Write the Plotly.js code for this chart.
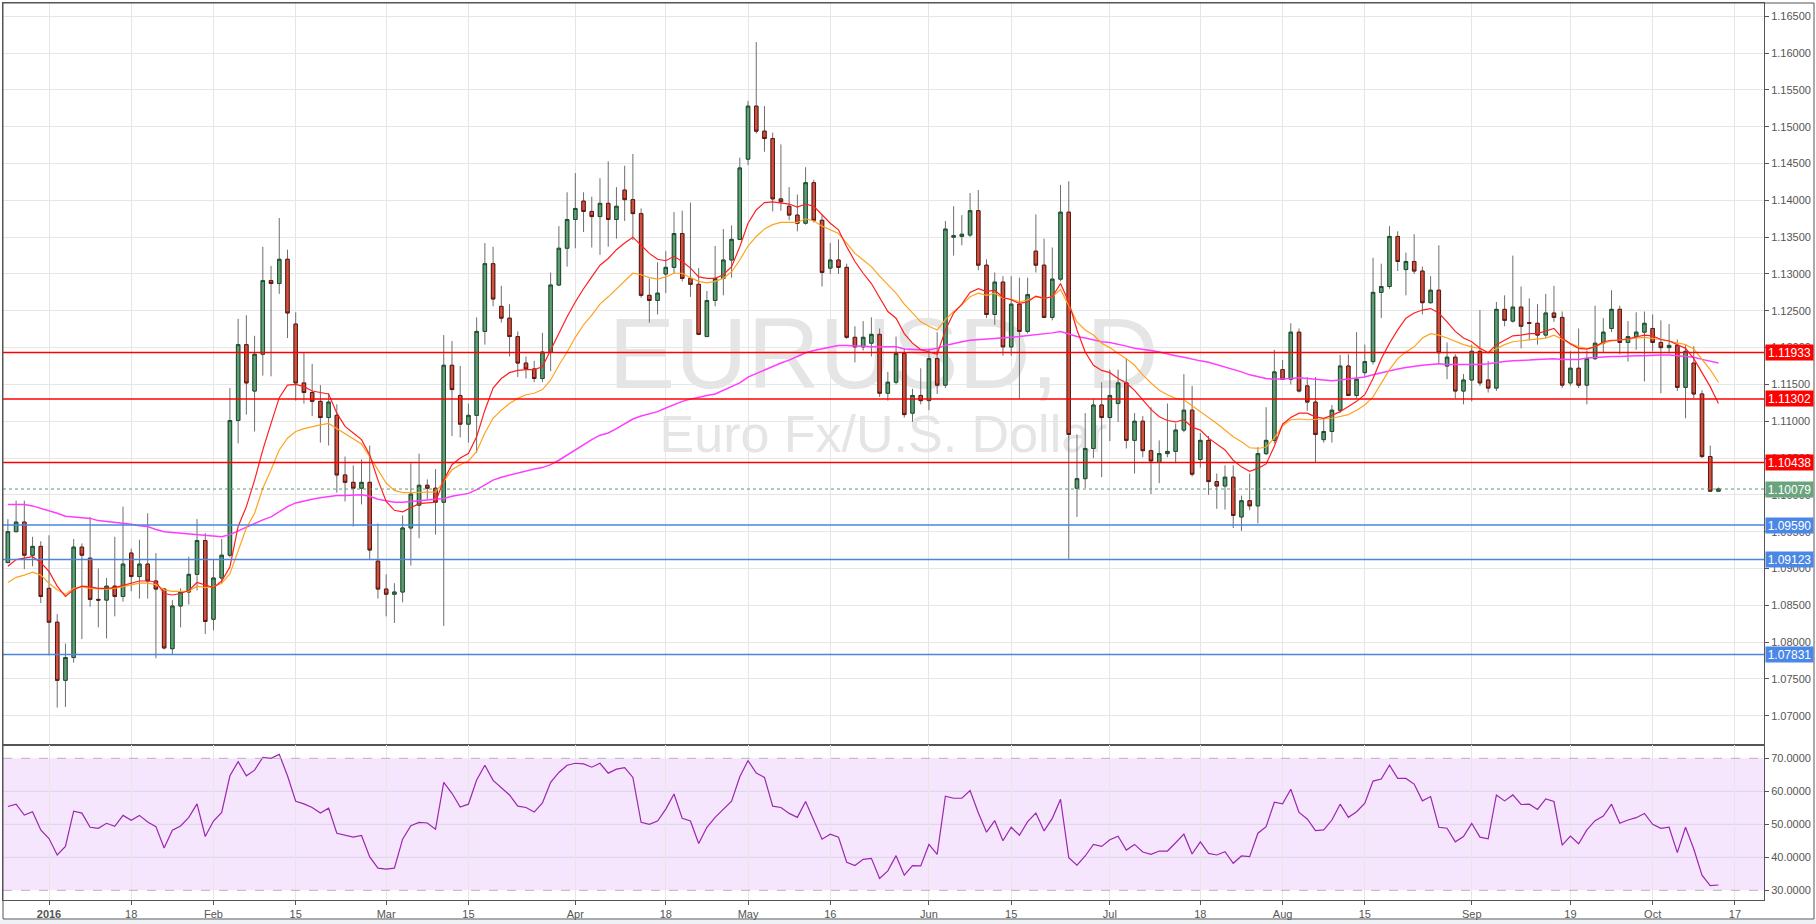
<!DOCTYPE html>
<html><head><meta charset="utf-8">
<script src="https://cdn.plot.ly/plotly-3.0.1.min.js"></script>
<style>html,body{margin:0;padding:0;background:#fff;}#chart{width:1816px;height:924px;}</style>
</head><body><div id="chart"></div>
<script>
// ---- data (EUR/USD daily, first candle 2015-12-28, consecutive weekdays) ----
const firstDate = '2015-12-28';
const open = [
1.0908,1.0950,1.0963,1.0918,1.0930,1.0873,1.0827,1.0748,1.0779,1.0929,
1.0914,1.0858,1.0857,1.0876,1.0862,1.0921,1.0889,1.0906,1.0883,1.0872,
1.0791,1.0849,1.0868,1.0892,1.0938,1.0831,1.0887,1.0918,1.1101,1.1204,
1.1141,1.1191,1.1291,1.1287,1.1320,1.1232,1.1152,1.1139,1.1127,1.1105,
1.1108,1.1027,1.1017,1.1009,1.1017,1.0910,1.0872,1.0865,1.0868,1.0955,
1.0986,1.1013,1.1009,1.0990,1.1176,1.1135,1.1096,1.1108,1.1222,1.1314,
1.1256,1.1240,1.1215,1.1179,1.1171,1.1158,1.1194,1.1285,1.1335,1.1374,
1.1399,1.1385,1.1378,1.1396,1.1374,1.1414,1.1401,1.1382,1.1271,1.1264,
1.1300,1.1309,1.1355,1.1294,1.1286,1.1215,1.1264,1.1294,1.1319,1.1347,
1.1456,1.1528,1.1494,1.1484,1.1402,1.1392,1.1380,1.1369,1.1424,1.1373,
1.1308,1.1319,1.1309,1.1214,1.1201,1.1206,1.1218,1.1138,1.1153,1.1192,
1.1111,1.1135,1.1128,1.1185,1.1149,1.1350,1.1351,1.1353,1.1386,1.1312,
1.1245,1.1289,1.1201,1.1259,1.1222,1.1331,1.1312,1.1241,1.1293,1.1384,
1.1009,1.1022,1.1063,1.1122,1.1105,1.1124,1.1152,1.1074,1.1100,1.1060,
1.1044,1.1056,1.1059,1.1088,1.1115,1.1048,1.1074,1.1018,1.1012,1.1024,
1.0970,1.0992,1.0985,1.1056,1.1074,1.1170,1.1157,1.1221,1.1148,1.1126,
1.1075,1.1086,1.1115,1.1175,1.1135,1.1166,1.1181,1.1275,1.1283,1.1351,
1.1306,1.1317,1.1304,1.1261,1.1278,1.1175,1.1187,1.1141,1.1156,1.1195,
1.1156,1.1145,1.1252,1.1236,1.1255,1.1234,1.1233,1.1217,1.1247,1.1241,
1.1152,1.1172,1.1149,1.1185,1.1206,1.1226,1.1252,1.1207,1.1215,1.1221,
1.1226,1.1207,1.1200,1.1203,1.1146,1.1179,1.1137,1.1052,1.1005];
const high = [
1.0967,1.0992,1.0992,1.0943,1.0937,1.0945,1.0838,1.0798,1.0940,1.0934,
1.0970,1.0900,1.0887,1.0943,1.0984,1.0927,1.0939,1.0975,1.0921,1.0873,
1.0857,1.0873,1.0916,1.0967,1.0948,1.0912,1.0940,1.1145,1.1239,1.1244,
1.1216,1.1337,1.1311,1.1376,1.1333,1.1248,1.1194,1.1178,1.1149,1.1138,
1.1123,1.1052,1.1040,1.1048,1.1067,1.0961,1.0892,1.0880,1.0972,1.1043,
1.1056,1.1021,1.1035,1.1217,1.1209,1.1175,1.1124,1.1241,1.1342,1.1337,
1.1284,1.1259,1.1222,1.1188,1.1182,1.1220,1.1302,1.1365,1.1411,1.1437,
1.1411,1.1405,1.1430,1.1453,1.1418,1.1447,1.1463,1.1389,1.1294,1.1316,
1.1331,1.1384,1.1386,1.1397,1.1308,1.1277,1.1338,1.1361,1.1366,1.1458,
1.1535,1.1615,1.1528,1.1492,1.1476,1.1418,1.1408,1.1445,1.1428,1.1380,
1.1342,1.1347,1.1314,1.1229,1.1236,1.1241,1.1226,1.1167,1.1215,1.1199,
1.1144,1.1172,1.1199,1.1221,1.1372,1.1392,1.1380,1.1410,1.1414,1.1320,
1.1302,1.1297,1.1297,1.1295,1.1295,1.1381,1.1348,1.1336,1.1421,1.1426,
1.1082,1.1111,1.1130,1.1153,1.1170,1.1170,1.1185,1.1111,1.1107,1.1119,
1.1074,1.1124,1.1097,1.1164,1.1148,1.1084,1.1080,1.1029,1.1040,1.1040,
1.0999,1.1029,1.1065,1.1119,1.1197,1.1183,1.1233,1.1226,1.1160,1.1160,
1.1104,1.1122,1.1190,1.1191,1.1221,1.1204,1.1322,1.1314,1.1365,1.1358,
1.1329,1.1354,1.1310,1.1297,1.1339,1.1207,1.1191,1.1164,1.1204,1.1251,
1.1182,1.1262,1.1271,1.1325,1.1283,1.1267,1.1259,1.1273,1.1284,1.1249,
1.1195,1.1226,1.1196,1.1257,1.1240,1.1278,1.1257,1.1236,1.1248,1.1249,
1.1245,1.1237,1.1232,1.1211,1.1204,1.1202,1.1142,1.1067,1.1010];
const low = [
1.0907,1.0949,1.0899,1.0903,1.0853,1.0782,1.0711,1.0712,1.0772,1.0804,
1.0848,1.0820,1.0805,1.0835,1.0855,1.0869,1.0859,1.0859,1.0778,1.0790,
1.0783,1.0820,1.0851,1.0870,1.0811,1.0816,1.0880,1.0915,1.1070,1.1109,
1.1086,1.1162,1.1161,1.1273,1.1213,1.1128,1.1124,1.1107,1.1071,1.1067,
1.1003,1.0991,1.0957,1.0987,1.0912,1.0859,1.0835,1.0826,1.0854,1.0904,
1.0941,1.0993,1.0946,1.0822,1.1080,1.1078,1.1071,1.1057,1.1204,1.1256,
1.1234,1.1188,1.1160,1.1158,1.1153,1.1153,1.1168,1.1284,1.1310,1.1335,
1.1357,1.1336,1.1326,1.1337,1.1348,1.1372,1.1346,1.1268,1.1234,1.1245,
1.1274,1.1300,1.1290,1.1269,1.1217,1.1215,1.1256,1.1271,1.1295,1.1346,
1.1448,1.1491,1.1466,1.1385,1.1386,1.1373,1.1358,1.1367,1.1370,1.1283,
1.1300,1.1300,1.1212,1.1180,1.1196,1.1188,1.1133,1.1128,1.1150,1.1105,
1.1099,1.1123,1.1115,1.1137,1.1145,1.1325,1.1339,1.1350,1.1305,1.1240,
1.1231,1.1189,1.1189,1.1131,1.1219,1.1302,1.1240,1.1237,1.1290,1.0913,
1.0970,1.1009,1.1050,1.1024,1.1073,1.1099,1.1063,1.1029,1.1051,1.1001,
1.1016,1.1051,1.1043,1.1085,1.1025,1.1037,1.1000,1.0981,1.0980,1.0955,
1.0951,1.0979,1.0961,1.1054,1.1070,1.1156,1.1150,1.1139,1.1114,1.1044,
1.1071,1.1071,1.1111,1.1134,1.1131,1.1160,1.1177,1.1240,1.1280,1.1304,
1.1271,1.1300,1.1245,1.1260,1.1179,1.1157,1.1131,1.1123,1.1127,1.1148,
1.1139,1.1141,1.1229,1.1234,1.1199,1.1210,1.1204,1.1213,1.1235,1.1145,
1.1148,1.1145,1.1123,1.1183,1.1194,1.1221,1.1191,1.1181,1.1197,1.1154,
1.1195,1.1138,1.1192,1.1141,1.1104,1.1131,1.1050,1.1005,1.1004];
const close = [
1.0950,1.0963,1.0918,1.0930,1.0862,1.0827,1.0748,1.0779,1.0929,1.0918,
1.0858,1.0857,1.0876,1.0862,1.0906,1.0889,1.0906,1.0883,1.0872,1.0792,
1.0849,1.0868,1.0892,1.0938,1.0828,1.0887,1.0918,1.1101,1.1204,1.1152,
1.1191,1.1291,1.1287,1.1320,1.1247,1.1152,1.1139,1.1127,1.1105,1.1126,
1.1027,1.1017,1.1009,1.1017,1.0925,1.0872,1.0865,1.0868,1.0955,1.1001,
1.1013,1.1009,1.0990,1.1176,1.1143,1.1096,1.1108,1.1222,1.1314,1.1266,
1.1240,1.1215,1.1179,1.1171,1.1158,1.1194,1.1285,1.1335,1.1374,1.1389,
1.1385,1.1378,1.1396,1.1374,1.1392,1.1401,1.1382,1.1271,1.1264,1.1274,
1.1309,1.1355,1.1294,1.1286,1.1218,1.1264,1.1294,1.1319,1.1347,1.1444,
1.1528,1.1494,1.1484,1.1402,1.1398,1.1380,1.1369,1.1424,1.1373,1.1302,
1.1319,1.1309,1.1214,1.1201,1.1214,1.1218,1.1138,1.1153,1.1192,1.1109,
1.1135,1.1128,1.1185,1.1149,1.1361,1.1352,1.1354,1.1386,1.1312,1.1245,
1.1289,1.1201,1.1259,1.1222,1.1272,1.1312,1.1241,1.1293,1.1384,1.1082,
1.1022,1.1063,1.1122,1.1105,1.1135,1.1152,1.1074,1.1100,1.1060,1.1046,
1.1056,1.1059,1.1088,1.1115,1.1028,1.1074,1.1018,1.1012,1.1024,1.0972,
1.0992,1.0985,1.1056,1.1074,1.1167,1.1157,1.1221,1.1141,1.1126,1.1082,
1.1086,1.1115,1.1175,1.1135,1.1157,1.1181,1.1275,1.1283,1.1351,1.1317,
1.1317,1.1304,1.1261,1.1278,1.1193,1.1187,1.1141,1.1156,1.1195,1.1152,
1.1145,1.1252,1.1237,1.1255,1.1229,1.1233,1.1217,1.1247,1.1241,1.1149,
1.1172,1.1149,1.1185,1.1206,1.1221,1.1252,1.1207,1.1215,1.1221,1.1233,
1.1207,1.1200,1.1203,1.1146,1.1195,1.1137,1.1052,1.1005,1.1008];
// moving averages (red = fast, orange = medium, magenta = slow)
const maFast = [
1.0903,1.0912,1.0914,1.0916,1.0908,1.0896,1.0876,1.0862,1.0871,1.0876,
1.0875,1.0873,1.0873,1.0874,1.0877,1.0880,1.0883,1.0883,1.0882,1.0866,
1.0864,1.0866,1.0870,1.0881,1.0878,1.0874,1.0883,1.0902,1.0957,1.0984,
1.1020,1.1061,1.1097,1.1132,1.1149,1.1150,1.1147,1.1141,1.1139,1.1137,
1.1111,1.1093,1.1084,1.1075,1.1054,1.1020,1.0991,1.0979,1.0977,1.0983,
1.0988,1.0989,1.0990,1.1020,1.1041,1.1050,1.1056,1.1079,1.1115,1.1145,
1.1158,1.1166,1.1169,1.1170,1.1170,1.1174,1.1197,1.1219,1.1242,1.1262,
1.1280,1.1296,1.1312,1.1321,1.1333,1.1342,1.1350,1.1339,1.1328,1.1320,
1.1318,1.1324,1.1317,1.1308,1.1296,1.1294,1.1294,1.1299,1.1310,1.1337,
1.1369,1.1387,1.1397,1.1398,1.1397,1.1395,1.1391,1.1395,1.1392,1.1380,
1.1369,1.1360,1.1337,1.1317,1.1301,1.1287,1.1267,1.1249,1.1240,1.1219,
1.1206,1.1197,1.1194,1.1191,1.1224,1.1247,1.1259,1.1275,1.1280,1.1276,
1.1278,1.1268,1.1265,1.1260,1.1262,1.1270,1.1267,1.1269,1.1287,1.1262,
1.1224,1.1194,1.1176,1.1169,1.1166,1.1158,1.1152,1.1142,1.1129,1.1116,
1.1106,1.1101,1.1099,1.1102,1.1092,1.1088,1.1077,1.1069,1.1061,1.1047,
1.1038,1.1032,1.1036,1.1042,1.1066,1.1096,1.1105,1.1111,1.1111,1.1106,
1.1104,1.1108,1.1113,1.1120,1.1127,1.1136,1.1158,1.1185,1.1206,1.1224,
1.1240,1.1247,1.1251,1.1253,1.1247,1.1235,1.1222,1.1213,1.1208,1.1199,
1.1193,1.1204,1.1210,1.1216,1.1217,1.1219,1.1219,1.1223,1.1226,1.1213,
1.1205,1.1199,1.1198,1.1201,1.1208,1.1210,1.1210,1.1212,1.1214,1.1217,
1.1216,1.1211,1.1209,1.1204,1.1199,1.1185,1.1165,1.1147,1.1124];
const maMid = [
1.0881,1.0888,1.0891,1.0895,1.0891,1.0880,1.0871,1.0865,1.0873,1.0875,
1.0873,1.0872,1.0872,1.0873,1.0875,1.0878,1.0880,1.0880,1.0878,1.0871,
1.0869,1.0869,1.0869,1.0876,1.0874,1.0875,1.0880,1.0893,1.0925,1.0955,
1.0975,1.1009,1.1034,1.1061,1.1077,1.1086,1.1090,1.1093,1.1095,1.1097,
1.1090,1.1083,1.1077,1.1069,1.1052,1.1034,1.1016,1.1006,1.1003,1.1003,
1.1003,1.1003,1.1004,1.1018,1.1034,1.1041,1.1046,1.1059,1.1084,1.1104,
1.1115,1.1124,1.1131,1.1136,1.1138,1.1143,1.1156,1.1176,1.1194,1.1214,
1.1231,1.1244,1.1259,1.1269,1.1280,1.1291,1.1301,1.1299,1.1295,1.1293,
1.1296,1.1301,1.1301,1.1295,1.1290,1.1288,1.1290,1.1294,1.1303,1.1319,
1.1338,1.1351,1.1361,1.1367,1.1370,1.1370,1.1370,1.1375,1.1372,1.1365,
1.1360,1.1355,1.1342,1.1328,1.1319,1.1310,1.1297,1.1285,1.1274,1.1259,
1.1247,1.1235,1.1229,1.1224,1.1238,1.1249,1.1258,1.1269,1.1274,1.1271,
1.1274,1.1267,1.1266,1.1262,1.1265,1.1269,1.1267,1.1269,1.1279,1.1256,
1.1235,1.1224,1.1217,1.1206,1.1200,1.1192,1.1185,1.1176,1.1163,1.1152,
1.1142,1.1136,1.1131,1.1129,1.1121,1.1113,1.1106,1.1097,1.1088,1.1079,
1.1072,1.1064,1.1063,1.1065,1.1077,1.1094,1.1102,1.1103,1.1102,1.1102,
1.1103,1.1104,1.1106,1.1109,1.1115,1.1122,1.1133,1.1152,1.1170,1.1185,
1.1194,1.1201,1.1213,1.1219,1.1217,1.1213,1.1208,1.1204,1.1201,1.1199,
1.1193,1.1199,1.1204,1.1208,1.1209,1.1210,1.1211,1.1213,1.1217,1.1211,
1.1206,1.1201,1.1199,1.1201,1.1206,1.1209,1.1210,1.1211,1.1213,1.1214,
1.1213,1.1211,1.1209,1.1206,1.1204,1.1198,1.1184,1.1170,1.1153];
const maSlow = [
1.0987,1.0987,1.0987,1.0985,1.0982,1.0979,1.0975,1.0971,1.0970,1.0970,
1.0968,1.0965,1.0964,1.0962,1.0961,1.0960,1.0958,1.0957,1.0953,1.0950,
1.0949,1.0948,1.0947,1.0946,1.0944,1.0943,1.0943,1.0946,1.0951,1.0957,
1.0961,1.0966,1.0970,1.0977,1.0984,1.0989,1.0992,1.0994,1.0996,1.0998,
1.0999,1.0999,1.1000,1.1000,1.0998,1.0994,1.0992,1.0990,1.0990,1.0991,
1.0992,1.0993,1.0993,1.0995,1.0998,1.1000,1.1002,1.1007,1.1014,1.1020,
1.1024,1.1027,1.1029,1.1032,1.1035,1.1037,1.1041,1.1047,1.1054,1.1062,
1.1068,1.1075,1.1081,1.1084,1.1090,1.1096,1.1103,1.1107,1.1110,1.1113,
1.1118,1.1123,1.1127,1.1130,1.1133,1.1135,1.1137,1.1142,1.1146,1.1152,
1.1160,1.1165,1.1170,1.1174,1.1179,1.1183,1.1188,1.1193,1.1196,1.1198,
1.1200,1.1203,1.1203,1.1203,1.1202,1.1201,1.1201,1.1201,1.1201,1.1198,
1.1197,1.1197,1.1197,1.1199,1.1203,1.1206,1.1208,1.1210,1.1211,1.1212,
1.1213,1.1213,1.1214,1.1215,1.1216,1.1217,1.1218,1.1220,1.1222,1.1218,
1.1215,1.1213,1.1210,1.1208,1.1207,1.1205,1.1202,1.1199,1.1198,1.1196,
1.1194,1.1191,1.1189,1.1187,1.1184,1.1182,1.1180,1.1177,1.1174,1.1171,
1.1167,1.1163,1.1160,1.1158,1.1157,1.1157,1.1158,1.1159,1.1158,1.1157,
1.1156,1.1155,1.1156,1.1157,1.1159,1.1160,1.1163,1.1166,1.1169,1.1171,
1.1173,1.1175,1.1176,1.1177,1.1178,1.1177,1.1177,1.1176,1.1177,1.1177,
1.1178,1.1180,1.1181,1.1182,1.1182,1.1183,1.1184,1.1185,1.1185,1.1184,
1.1184,1.1184,1.1186,1.1187,1.1188,1.1188,1.1188,1.1189,1.1189,1.1189,
1.1190,1.1190,1.1190,1.1189,1.1189,1.1187,1.1184,1.1181,1.1179];
const rsi = [
55.4,56.1,52.8,53.8,48.3,45.7,40.7,43.3,54.0,53.4,
49.1,48.8,50.3,49.4,52.7,51.2,52.7,50.7,49.3,42.8,
48.2,49.5,52.1,56.2,46.3,51.0,53.6,64.7,69.0,64.7,
66.4,70.3,70.0,71.2,64.7,57.0,56.2,55.1,53.4,54.9,
47.3,46.6,46.1,46.6,40.1,36.7,36.4,36.7,45.5,49.6,
50.6,50.4,48.5,62.7,59.4,55.2,56.1,63.4,67.9,63.3,
61.1,58.9,55.5,55.1,53.7,56.5,62.7,65.7,67.9,68.5,
68.3,67.3,68.5,65.5,66.7,67.2,64.2,50.6,50.0,51.0,
54.6,59.2,51.8,51.0,44.2,49.1,52.1,54.6,57.0,64.4,
69.3,65.5,64.2,55.5,55.1,53.3,52.1,56.9,51.0,45.5,
47.0,46.1,38.5,37.5,39.4,39.7,33.6,35.9,40.5,34.6,
37.5,37.4,43.9,40.9,58.5,57.9,57.9,60.2,53.5,47.6,
51.1,45.0,49.1,46.7,50.8,53.4,48.0,51.8,57.6,39.9,
37.6,40.4,43.9,43.3,45.3,46.4,42.2,43.9,41.6,40.9,
41.9,41.9,44.4,47.0,41.0,44.7,41.2,40.7,41.7,38.2,
40.4,40.2,47.3,49.3,56.7,56.2,60.6,53.6,51.6,48.1,
48.3,51.3,56.1,52.1,53.8,56.4,63.1,63.7,67.9,63.9,
63.9,62.2,57.1,58.4,49.1,48.8,44.7,46.3,50.3,46.1,
45.6,58.9,57.1,58.9,56.0,56.1,54.5,57.7,56.9,43.7,
46.4,44.1,48.3,51.1,52.5,56.1,50.3,51.3,52.0,53.3,
50.0,48.8,49.1,41.4,49.1,42.5,34.6,31.4,31.6];

const resistance = [1.11933, 1.11302, 1.10438];
const support = [1.09590, 1.09123, 1.07831];
const lastPrice = 1.10079;
const rsiBounds = [30, 70];
const rsiGrid = [40, 50, 60];
const tickDates = ['2016-01-04','2016-01-18','2016-02-01','2016-02-15','2016-03-01','2016-03-15',
  '2016-04-01','2016-04-18','2016-05-02','2016-05-16','2016-06-01','2016-06-15','2016-07-01',
  '2016-07-18','2016-08-01','2016-08-15','2016-09-01','2016-09-19','2016-10-03','2016-10-17'];
const tickText = ['<b>2016</b>','18','Feb','15','Mar','15','Apr','18','May','16','Jun','15','Jul',
  '18','Aug','15','Sep','19','Oct','17'];
const title = 'EURUSD, D';
const subtitle = 'Euro Fx/U.S. Dollar';

// ---- trading-day axis (weekdays only) ----
const DAY = 86400000, BASE = Date.UTC(2016,0,4);
function tradingIndex(s){
  const p = s.split('-').map(Number);
  const d = Math.round((Date.UTC(p[0],p[1]-1,p[2]) - BASE)/DAY);
  const w = Math.floor(d/7);
  return 5*w + (d - 7*w);
}
const x0 = tradingIndex(firstDate);
const x = open.map((_, k) => x0 + k);
const tickVals = tickDates.map(tradingIndex);
const bodyHigh = open.map((o,k) => Math.max(o, close[k]));
const bodyLow = open.map((o,k) => Math.min(o, close[k]));

const FONT = 'Liberation Sans, Arial, sans-serif';
const wick = '#6e6e6e';
const traces = [
  {type:'candlestick', x:x, open:open, high:high, low:low, close:close, xaxis:'x', yaxis:'y',
   whiskerwidth:0, hoverinfo:'skip',
   increasing:{line:{color:wick,width:1}, fillcolor:wick},
   decreasing:{line:{color:wick,width:1}, fillcolor:wick}},
  {type:'candlestick', x:x, open:open, high:bodyHigh, low:bodyLow, close:close, xaxis:'x', yaxis:'y',
   whiskerwidth:0, hoverinfo:'skip',
   increasing:{line:{color:'#1d4f2d',width:1}, fillcolor:'#5f9e76'},
   decreasing:{line:{color:'#5b1a12',width:1}, fillcolor:'#d4503e'}},
  {type:'scatter', mode:'lines', x:x, y:maSlow, xaxis:'x', yaxis:'y', line:{color:'#ff3cff', width:1.5}, hoverinfo:'skip'},
  {type:'scatter', mode:'lines', x:x, y:maMid, xaxis:'x', yaxis:'y', line:{color:'#ffa31f', width:1.2}, hoverinfo:'skip'},
  {type:'scatter', mode:'lines', x:x, y:maFast, xaxis:'x', yaxis:'y', line:{color:'#ff1f1f', width:1.2}, hoverinfo:'skip'},
  {type:'scatter', mode:'lines', x:x, y:rsi, xaxis:'x2', yaxis:'y2', line:{color:'#9c27b0', width:1.2}, hoverinfo:'skip'}
];

// ---- geometry ----
const W = 1816, H = 924, M = {l:3, r:52, t:3, b:24};
const PW = W - M.l - M.r, PH = H - M.t - M.b;
const splitPx = 745;                      // separator between price and RSI panels
const split = (H - M.b - splitPx) / PH;
const px = v => v / PW, py = v => v / PH;

const shapes = [];
// RSI band
shapes.push({type:'rect', xref:'paper', yref:'y2', x0:0, x1:1, y0:rsiBounds[0], y1:rsiBounds[1],
  fillcolor:'#f5e6fd', line:{width:0}, layer:'below'});
rsiGrid.forEach(v => shapes.push({type:'line', xref:'paper', yref:'y2', x0:0, x1:1, y0:v, y1:v,
  line:{color:'#ddd2e6', width:1}, layer:'below'}));
rsiBounds.forEach(v => shapes.push({type:'line', xref:'paper', yref:'y2', x0:0, x1:1, y0:v, y1:v,
  line:{color:'#b8b0bc', width:1, dash:'dash'}}));
// watermark
shapes.push({type:'rect', xref:'paper', yref:'paper', x0:0.3, x1:0.7, y0:0.58, y1:0.66, layer:'below',
  line:{width:0}, fillcolor:'rgba(0,0,0,0)',
  label:{text:title, textposition:'middle center', font:{size:100, color:'#e5e5e5', family:FONT}}});
shapes.push({type:'rect', xref:'paper', yref:'paper', x0:0.3, x1:0.7, y0:0.50, y1:0.55, layer:'below',
  line:{width:0}, fillcolor:'rgba(0,0,0,0)',
  label:{text:subtitle, textposition:'middle center', font:{size:52, color:'#e5e5e5', family:FONT}}});
// levels
resistance.forEach(v => shapes.push({type:'line', xref:'paper', yref:'y', x0:0, x1:1, y0:v, y1:v,
  line:{color:'#ff0000', width:1.5}}));
support.forEach(v => shapes.push({type:'line', xref:'paper', yref:'y', x0:0, x1:1, y0:v, y1:v,
  line:{color:'#4a85e0', width:1.5}}));
shapes.push({type:'line', xref:'paper', yref:'y', x0:0, x1:1, y0:lastPrice, y1:lastPrice,
  line:{color:'#5e9b74', width:1, dash:'dot'}});
// outer frame and bottom strip
shapes.push({type:'rect', xref:'paper', yref:'paper', x0:-px(3), x1:px(W-M.l), y0:-py(M.b), y1:-py(M.b-4),
  fillcolor:'#eef1f5', line:{width:0}});
shapes.push({type:'rect', xref:'paper', yref:'paper', x0:0, x1:px(1814-M.l), y0:-py(919-(H-M.b)), y1:1,
  fillcolor:'rgba(0,0,0,0)', line:{color:'#555', width:1}});

const annotations = [];
function tag(v, bg){
  annotations.push({xref:'paper', yref:'y', x:1, xanchor:'left', y:v, yanchor:'middle',
    text:v.toFixed(5), showarrow:false, bgcolor:bg, width:47, height:15, borderpad:0,
    font:{family:FONT, size:12, color:'#ffffff'}, xshift:1});
}
resistance.forEach(v => tag(v, '#ff0000'));
support.forEach(v => tag(v, '#4a87e6'));
tag(lastPrice, '#6aa47e');

const axisFont = {family:FONT, size:11, color:'#555'};
const layout = {
  width:W, height:H, margin:M, paper_bgcolor:'#ffffff', plot_bgcolor:'#ffffff',
  showlegend:false, hovermode:false, boxgap:0.4,
  xaxis:{anchor:'y', domain:[0,1], range:[-5.593, 208.54], tickmode:'array', tickvals:tickVals,
    showticklabels:false, ticks:'', showgrid:true, gridcolor:'#e6e6e6', zeroline:false,
    showline:true, linecolor:'#555', linewidth:1, mirror:true, rangeslider:{visible:false}},
  yaxis:{anchor:'x', domain:[split,1], side:'right', range:[1.06602, 1.16681], tick0:1.065, dtick:0.005,
    tickformat:'.5f', ticks:'outside', ticklen:4, tickcolor:'#555', tickfont:axisFont,
    showgrid:true, gridcolor:'#e6e6e6', zeroline:false, showline:true, linecolor:'#555', mirror:true},
  xaxis2:{anchor:'y2', domain:[0,1], matches:'x', tickmode:'array', tickvals:tickVals, ticktext:tickText,
    ticks:'outside', ticklen:4, tickcolor:'#555', tickfont:axisFont, showgrid:true, gridcolor:'#e6e6e6',
    zeroline:false, showline:true, linecolor:'#555', mirror:true},
  yaxis2:{anchor:'x2', domain:[0,split], side:'right', range:[27.06, 74.03], tickmode:'array',
    tickvals:[30,40,50,60,70], tickformat:'.4f', ticks:'outside', ticklen:4, tickcolor:'#555',
    tickfont:axisFont, showgrid:false, zeroline:false, showline:true, linecolor:'#555', mirror:true},
  shapes:shapes, annotations:annotations
};
Plotly.newPlot('chart', traces, layout, {staticPlot:true, displayModeBar:false});
</script></body></html>
